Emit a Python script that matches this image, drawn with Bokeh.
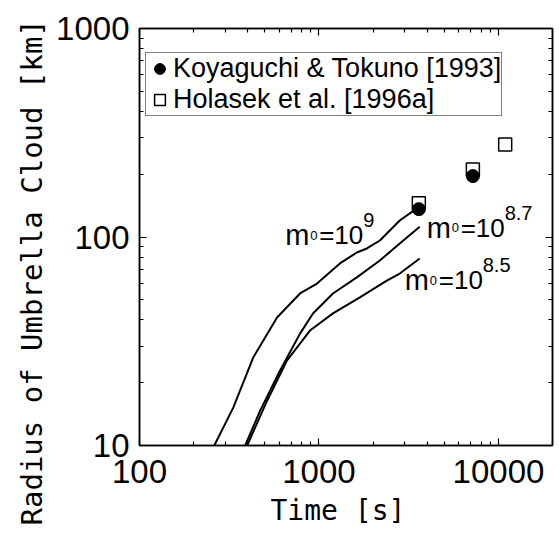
from bokeh.plotting import figure
from bokeh.models import (LogAxis, Label, Title, Legend, LegendItem, Range1d,
                          FixedTicker, BasicTickFormatter)
from bokeh.embed import file_html
from bokeh.resources import INLINE

# ---- data ----
t_m9 = [261, 333, 430, 584, 784, 975, 1308, 1625, 1848, 2183, 2818, 3548]
r_m9 = [10, 15.2, 26.4, 41.1, 53.6, 59.8, 74.7, 84.3, 88.1, 96.2, 120, 138]

t_m87 = [388, 470, 607, 784, 926, 1196, 1625, 2183, 2818, 3640]
r_m87 = [10, 14.7, 22.9, 34.4, 43, 53.6, 64, 77.1, 93.1, 112]

t_m85 = [398, 514, 664, 891, 1196, 1690, 2387, 2818, 3640]
r_m85 = [10, 16.4, 25.6, 35.6, 43, 51.3, 61.8, 66.8, 78.9]

koy_t = [3600, 7200]
koy_r = [136, 196]
hol_t = [3600, 7200, 10900]
hol_r = [145, 211, 278]

curve_labels = ["9", "8.7", "8.5"]
label_t = [648, 3981, 3005]
label_r = [101.7, 111, 61.9]

x_ticks = [100, 1000, 10000]
x_minor = [200, 300, 400, 500, 600, 700, 800, 900,
           2000, 3000, 4000, 5000, 6000, 7000, 8000, 9000, 20000]
y_ticks = [10, 100, 1000]
y_minor = [20, 30, 40, 50, 60, 70, 80, 90,
           200, 300, 400, 500, 600, 700, 800, 900]

TICK_FONT = "Liberation Sans"
TITLE_FONT = "DejaVu Sans Mono"

p = figure(width=559, height=535, x_axis_type="log", y_axis_type="log",
           x_range=Range1d(100, 20000), y_range=Range1d(10, 1000),
           output_backend="svg", toolbar_location=None,
           min_border_left=139, min_border_right=7, min_border_top=28,
           min_border_bottom=90)
p.grid.visible = False
p.outline_line_color = "black"
p.outline_line_width = 1.5
p.background_fill_color = "white"
p.border_fill_color = "white"


def style_axis(ax):
    ax.major_tick_in = 7
    ax.major_tick_out = 0
    ax.minor_tick_in = 4
    ax.minor_tick_out = 0
    ax.axis_line_width = 1.5
    ax.major_tick_line_width = 1.2
    ax.minor_tick_line_width = 1.2


for ax in (p.xaxis[0], p.yaxis[0]):
    style_axis(ax)
    ax.major_label_text_font = TICK_FONT
    ax.major_label_text_font_size = "33px"
    ax.major_label_text_color = "black"
    ax.formatter = BasicTickFormatter(use_scientific=False)
p.xaxis[0].ticker = FixedTicker(ticks=x_ticks, minor_ticks=x_minor)
p.yaxis[0].ticker = FixedTicker(ticks=y_ticks, minor_ticks=y_minor)
p.xaxis[0].major_label_overrides = {v: str(v) for v in x_ticks}
p.yaxis[0].major_label_overrides = {v: str(v) for v in y_ticks}
p.xaxis[0].major_label_standoff = 14
p.yaxis[0].major_label_standoff = 10

for side, tk, mn in (("above", x_ticks, x_minor), ("right", y_ticks, y_minor)):
    ax = LogAxis(ticker=FixedTicker(ticks=tk, minor_ticks=mn),
                 major_label_text_font_size="1px", major_label_text_alpha=0,
                 major_label_standoff=0,
                 major_label_overrides={v: "" for v in tk})
    style_axis(ax)
    p.add_layout(ax, side)

# axis titles
p.add_layout(Title(text="Time [s]", align="left", offset=131, standoff=12,
                   text_font=TITLE_FONT, text_font_size="28px",
                   text_color="black", text_font_style="normal"), "below")
p.add_layout(Title(text="Radius of Umbrella Cloud [km]", align="left", offset=-80,
                   text_font=TITLE_FONT, text_font_size="29px",
                   text_color="black", text_font_style="normal"), "left")

# curves
for tt, rr in ((t_m9, r_m9), (t_m87, r_m87), (t_m85, r_m85)):
    p.line(tt, rr, line_color="black", line_width=2)

# points: squares behind dots
sq = p.scatter(hol_t, hol_r, marker="square", size=13, fill_color="white",
               line_color="black", line_width=1.5)
ci = p.scatter(koy_t, koy_r, marker="circle", size=13, fill_color="black",
               line_color="black")

legend = Legend(items=[LegendItem(label="Koyaguchi & Tokuno [1993]", renderers=[ci]),
                       LegendItem(label="Holasek et al. [1996a]", renderers=[sq])],
                location=(6, 329), label_text_font=TICK_FONT,
                label_text_font_size="27px", label_text_color="black",
                border_line_color="black",
                border_line_width=1.5, padding=0, margin=0, spacing=0,
                glyph_width=27, glyph_height=27, label_standoff=0,
                label_height=26, background_fill_alpha=1.0)
p.add_layout(legend)

# curve labels  m0=10^exp
for exp, lt, lr in zip(curve_labels, label_t, label_r):
    common = dict(x=lt, y=lr, text_font=TICK_FONT, text_color="black",
                  text_baseline="alphabetic")
    p.add_layout(Label(text="m", text_font_size="29px", **common))
    p.add_layout(Label(x_offset=25, text="0", text_font_size="13px", **common))
    p.add_layout(Label(x_offset=34, text="=10", text_font_size="26px", **common))
    p.add_layout(Label(x_offset=78, y_offset=15, text=exp, text_font_size="20px",
                       **common))

open("out.html", "w").write(file_html(p, INLINE))
